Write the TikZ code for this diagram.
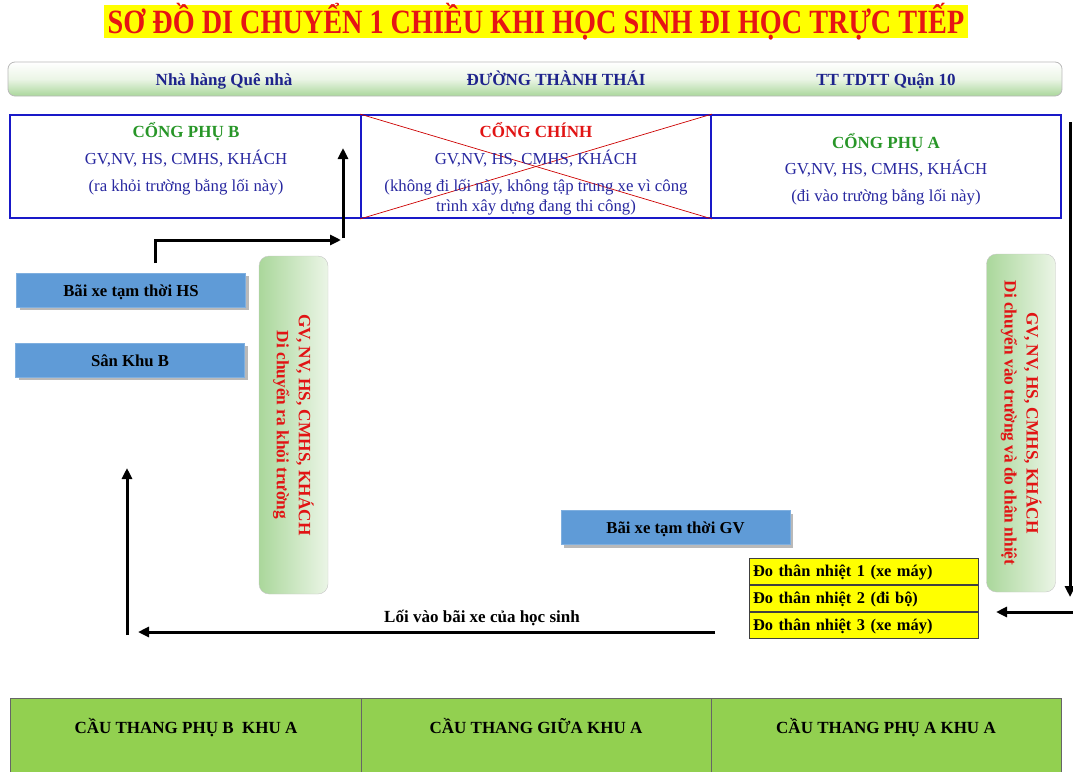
\documentclass[tikz,border=0pt]{standalone}
\usepackage{fontspec}
\setmainfont{Liberation Serif}
\usetikzlibrary{arrows.meta,shadows}
\definecolor{titlered}{RGB}{230,20,20}
\definecolor{hiyellow}{RGB}{255,255,0}
\definecolor{roadblue}{RGB}{30,35,140}
\definecolor{txtblue}{RGB}{40,40,160}
\definecolor{gategreen}{RGB}{40,150,40}
\definecolor{gatered}{RGB}{225,20,20}
\definecolor{borderblue}{RGB}{25,25,200}
\definecolor{boxblue}{RGB}{95,155,215}
\definecolor{palegreen}{RGB}{170,215,155}
\definecolor{lightgreen}{RGB}{235,245,230}
\definecolor{stairgreen}{RGB}{146,208,80}
\begin{document}
\begin{tikzpicture}[x=1pt,y=-1pt,
  arr/.style={line width=3pt,-{Triangle[length=11pt,width=10pt]}},
  tx/.style={text height=14pt,text depth=2pt,inner sep=0pt},
  cell/.style={draw=borderblue,line width=1.8pt,minimum height=103pt,inner sep=0pt},
  ttl/.style={tx,font=\bfseries\fontsize{17}{20}\selectfont,text=gategreen},
  body/.style={tx,font=\fontsize{16.8}{20}\selectfont,text=txtblue},
  roadtxt/.style={tx,font=\bfseries\fontsize{17}{20}\selectfont,text=roadblue},
  bluebox/.style={tx,fill=boxblue,draw=boxblue!80!white,minimum width=229pt,minimum height=34pt,
    font=\bfseries\fontsize{16.7}{20}\selectfont,drop shadow={shadow xshift=3pt,shadow yshift=-3pt,fill=gray!55,opacity=1}},
  vbox/.style={rounded corners=10pt,draw=gray!45,left color=palegreen,right color=lightgreen,
    minimum width=69pt,minimum height=338pt},
  vtxt/.style={rotate=-90,font=\bfseries\fontsize{17.3}{22}\selectfont,text=gatered,align=center},
  ybox/.style={fill=hiyellow,draw=black!75,line width=0.8pt,minimum width=229pt,minimum height=26.3pt,
    text width=221pt,align=left,font=\bfseries\fontsize{16.4}{19}\selectfont,inner sep=0pt,
    text height=13pt,text depth=2.5pt},
  stair/.style={fill=stairgreen,draw=black!60,line width=0.8pt,minimum height=90pt,inner sep=0pt},
  stxt/.style={tx,font=\bfseries\fontsize{17}{20}\selectfont}
]
\useasboundingbox (0,0) rectangle (1073,771);
% title
\node[fill=hiyellow,minimum width=864pt,minimum height=33pt,inner sep=0pt] (titlebg) at (536,21.5) {};
\node[text=titlered,font=\bfseries\fontsize{34}{40}\selectfont,xscale=0.83,inner sep=0pt,
  text height=23pt,text depth=7pt] (title) at (536,25) {SƠ ĐỒ DI CHUYỂN 1 CHIỀU KHI HỌC SINH ĐI HỌC TRỰC TIẾP};
% road
\node[rounded corners=7pt,draw=gray!55,line width=0.8pt,top color=white,bottom color=palegreen,
  middle color=lightgreen,minimum width=1054pt,minimum height=34pt] (road) at (535,79) {};
\node[roadtxt] (r1) at (224,79) {Nhà hàng Quê nhà};
\node[roadtxt] (r2) at (556,79) {ĐƯỜNG THÀNH THÁI};
\node[roadtxt] (r3) at (886,79) {TT TDTT Quận 10};
% gates
\node[cell,minimum width=351pt] (gB) at (185.5,166.5) {};
\node[cell,minimum width=350pt] (gM) at (536,166.5) {};
\node[cell,minimum width=350pt] (gA) at (886,166.5) {};
\draw[red!80!black,line width=0.7pt] (gM.north west) -- (gM.south east);
\draw[red!80!black,line width=0.7pt] (gM.south west) -- (gM.north east);
\node[ttl] (gBt) at (186,131) {CỔNG PHỤ B};
\node[body] (gB1) at (186,158) {GV,NV, HS, CMHS, KHÁCH};
\node[body] (gB2) at (186,185) {(ra khỏi trường bằng lối này)};
\node[ttl,text=gatered] (gMt) at (536,131) {CỔNG CHÍNH};
\node[body] (gM1) at (536,158) {GV,NV, HS, CMHS, KHÁCH};
\node[body] (gM2) at (536,185) {(không đi lối này, không tập trung xe vì công};
\node[body] (gM3) at (536,205) {trình xây dựng đang thi công)};
\node[ttl] (gAt) at (886,142) {CỔNG PHỤ A};
\node[body] (gA1) at (886,168) {GV,NV, HS, CMHS, KHÁCH};
\node[body] (gA2) at (886,195) {(đi vào trường bằng lối này)};
% blue boxes
\node[bluebox] (hs) at (131,290) {Bãi xe tạm thời HS};
\node[bluebox] (sk) at (130,360) {Sân Khu B};
\node[bluebox] (gv) at (675.5,527.5) {Bãi xe tạm thời GV};
% vertical green boxes
\node[vbox] (vL) at (293.5,425) {};
\node[vtxt] (vLt) at (vL.center) {GV, NV, HS, CMHS, KHÁCH\\Di chuyển ra khỏi trường};
\node[vbox] (vR) at (1021,423) {};
\node[vtxt] (vRt) at (vR.center) {GV, NV, HS, CMHS, KHÁCH\\Di chuyển vào trường và đo thân nhiệt};
% yellow table
\node[ybox] (t1) at (863.5,571.2) {Đo thân nhiệt 1 (xe máy)};
\node[ybox,anchor=north] (t2) at (t1.south) {Đo thân nhiệt 2 (đi bộ)};
\node[ybox,anchor=north] (t3) at (t2.south) {Đo thân nhiệt 3 (xe máy)};
% stairs
\node[stair,minimum width=351pt] (s1) at (185.5,743) {};
\node[stair,minimum width=350pt] (s2) at (536,743) {};
\node[stair,minimum width=350pt] (s3) at (886,743) {};
\node[stxt] (s1t) at (186,727) {CẦU THANG PHỤ B\ \ KHU A};
\node[stxt] (s2t) at (536,727) {CẦU THANG GIỮA KHU A};
\node[stxt] (s3t) at (886,727) {CẦU THANG PHỤ A KHU A};
% arrows
\coordinate (a0) at (155,263);
\coordinate (a1) at (155,240);
\coordinate (a2) at (341,240);
\draw[arr] (a0) -- (a1) -- (a2);
\coordinate (b0) at (343,238);
\coordinate (b1) at (343,148);
\draw[arr] (b0) -- (b1);
\coordinate (c0) at (1070,122);
\coordinate (c1) at (1070,597);
\draw[arr] (c0) -- (c1);
\coordinate (d0) at (1074,612);
\coordinate (d1) at (996,612);
\draw[arr] (d0) -- (d1);
\coordinate (e0) at (715,632);
\coordinate (e1) at (138,632);
\draw[arr] (e0) -- (e1);
\node[tx,font=\bfseries\fontsize{17}{20}\selectfont] (lbl) at (482,616) {Lối vào bãi xe của học sinh};
\coordinate (f0) at (127,635);
\coordinate (f1) at (127,468);
\draw[arr] (f0) -- (f1);
\end{tikzpicture}
\end{document}
